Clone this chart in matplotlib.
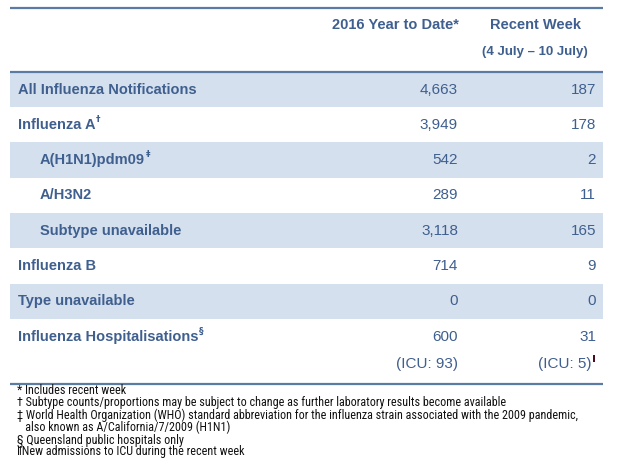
import matplotlib
matplotlib.use("Agg")
import matplotlib.pyplot as plt
from matplotlib.patches import Rectangle

# table content
labels = ["All Influenza Notifications", "Influenza A", "A(H1N1)pdm09", "A/H3N2",
          "Subtype unavailable", "Influenza B", "Type unavailable",
          "Influenza Hospitalisations"]
marks = ["", "\u2020", "\u2021", "", "", "", "", "\u00a7"]
indent = [0, 0, 1, 1, 1, 0, 0, 0]
ytd = [4663, 3949, 542, 289, 3118, 714, 0, 600]
recent = [187, 178, 2, 11, 165, 9, 0, 31]
icu_ytd = 93
icu_recent = 5

col_headers = ["2016 Year to Date*", "Recent Week"]
week_range = "(4 July \u2013 10 July)"

footnotes = [
    "* Includes recent week",
    "\u2020 Subtype counts/proportions may be subject to change as further laboratory results become available",
    "\u2021 World Health Organization (WHO) standard abbreviation for the influenza strain associated with the 2009 pandemic,",
    "   also known as A/California/7/2009 (H1N1)",
    "\u00a7 Queensland public hospitals only",
    "\u2016New admissions to ICU during the recent week",
]

TXT = "#3f5f8f"
LINE = "#5a7ba4"
BAND = "#d5e0ee"
FONT = ["Liberation Sans", "DejaVu Sans"]
NARROW = ["Roboto Condensed", "Liberation Sans", "DejaVu Sans"]

W, H = 631, 463
fig = plt.figure(figsize=(W / 100, H / 100), dpi=100)
ax = fig.add_axes([0, 0, 1, 1])
ax.set_xlim(0, W)
ax.set_ylim(H, 0)
ax.axis("off")

left, right = 10, 603
x_label, x_indent = 18, 40
x_col1, x_col2 = 458, 596
row0, row_h = 89.5, 35.3

# rules
for yl in (7.5, 71.5, 384):
    ax.plot([left, right], [yl, yl], color=LINE, lw=1.6, solid_capstyle="butt")

# header
ax.text(x_col1 + 1, 25, col_headers[0], ha="right", va="center", fontsize=10.5,
        fontweight="bold", color=TXT, family=FONT)
ax.text(535, 25, col_headers[1], ha="center", va="center", fontsize=10.5,
        fontweight="bold", color=TXT, family=FONT)
ax.text(535, 52, week_range, ha="center", va="center", fontsize=9.5,
        fontweight="bold", color=TXT, family=FONT)

fig.canvas.draw()
renderer = fig.canvas.get_renderer()
inv = ax.transData.inverted()

for i, lab in enumerate(labels):
    yc = row0 + i * row_h
    if i % 2 == 0:
        ax.add_patch(Rectangle((left, yc - row_h / 2), right - left, row_h,
                               facecolor=BAND, edgecolor="none", zorder=0))
    x0 = x_indent if indent[i] else x_label
    t = ax.text(x0, yc, lab, ha="left", va="center", fontsize=10.5,
                fontweight="bold", color=TXT, family=FONT)
    if marks[i]:
        bb = t.get_window_extent(renderer)
        xe = inv.transform((bb.x1, bb.y1))[0]
        ax.text(xe + 0.5, yc - 5.5, marks[i], ha="left", va="center", fontsize=6.5,
                fontweight="bold", color=TXT, family=["DejaVu Sans"])
    ax.text(x_col1, yc, f"{ytd[i]:,}", ha="right", va="center", fontsize=11,
            color=TXT, family=FONT)
    ax.text(x_col2, yc, f"{recent[i]:,}", ha="right", va="center", fontsize=11,
            color=TXT, family=FONT)

# ICU line under hospitalisations
y_icu = row0 + len(labels) * row_h - 7.5
ax.text(x_col1, y_icu, f"(ICU: {icu_ytd})", ha="right", va="center", fontsize=11,
        color=TXT, family=FONT)
ax.text(x_col2 - 5, y_icu, f"(ICU: {icu_recent})", ha="right", va="center",
        fontsize=11, color=TXT, family=FONT)
ax.add_patch(Rectangle((x_col2 - 3.5, y_icu - 9), 2, 7, facecolor="#4a0d1e",
                       edgecolor="none"))

# footnotes
for j, note in enumerate(footnotes):
    ax.text(17, 390.5 + j * 12.3, note, ha="left", va="center", fontsize=8.7,
            color="#111111", family=NARROW)

fig.savefig("out.png", dpi=100)
